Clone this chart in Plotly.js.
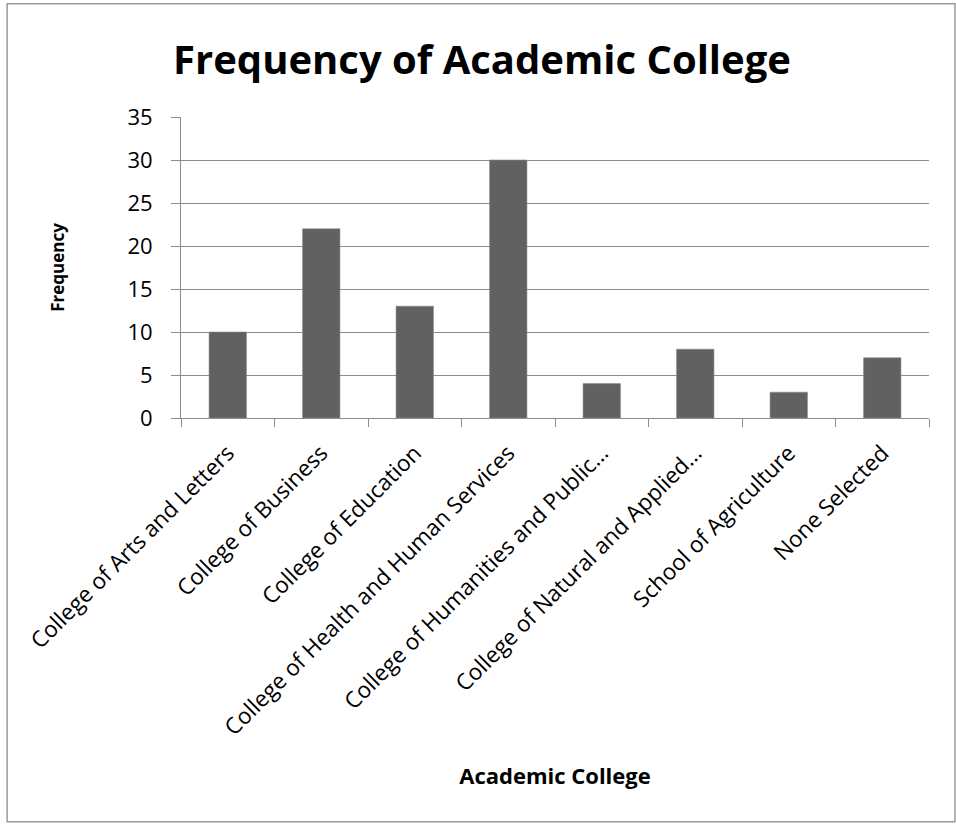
<!DOCTYPE html>
<html>
<head>
<meta charset="utf-8">
<script src="https://cdn.plot.ly/plotly-3.0.1.min.js"></script>
<style>
  html, body { margin: 0; padding: 0; background: #ffffff; }
  #chart { width: 956px; height: 825px; }
</style>
</head>
<body>
<div id="chart"></div>
<script>
// Academic college counts
const colleges = [
  "College of Arts and Letters",
  "College of Business",
  "College of Education",
  "College of Health and Human Services",
  "College of Humanities and Public…",
  "College of Natural and Applied…",
  "School of Agriculture",
  "None Selected"
];
const frequency = [10, 22, 13, 30, 4, 8, 3, 7];
const yTicks = [0, 5, 10, 15, 20, 25, 30, 35];

const FONT = "'Open Sans', 'Noto Sans', sans-serif";
const W = 956, H = 825;
const M = { l: 181, r: 26.5, t: 117.3, b: 406.7 };
const pw = W - M.l - M.r, ph = H - M.t - M.b;
// outer frame in pixel space converted to paper units
const px = v => (v - M.l) / pw;
const py = v => (H - M.b - v) / ph;

const trace = {
  type: "bar",
  x: colleges,
  y: frequency,
  marker: { color: "#616161", line: { color: "#8a8a8a", width: 0.6 } },
  hoverinfo: "x+y"
};

const layout = {
  width: W,
  height: H,
  margin: M,
  paper_bgcolor: "#ffffff",
  plot_bgcolor: "#ffffff",
  showlegend: false,
  bargap: 0.6,
  font: { family: FONT, color: "#000000", size: 22 },
  title: {
    text: "<b>Frequency of Academic College</b>",
    font: { family: FONT, size: 40, color: "#000000" },
    xref: "container", x: 482 / W, xanchor: "center",
    yref: "container", y: 1 - 60 / H, yanchor: "middle"
  },
  xaxis: {
    type: "category",
    tickson: "boundaries",
    ticks: "outside",
    ticklen: 8,
    tickcolor: "#8c8c8c",
    tickwidth: 1,
    showline: true,
    linecolor: "#8c8c8c",
    linewidth: 1,
    showgrid: false,
    tickangle: -45,
    tickfont: { family: FONT, size: 22.5, color: "#000000" },
    ticklabelstandoff: 12,
    automargin: false,
    title: {
      text: "<b>Academic College</b>",
      font: { family: FONT, size: 22, color: "#000000" },
      standoff: 27
    }
  },
  yaxis: {
    range: [0, 35],
    tickvals: yTicks,
    ticktext: yTicks.map(String),
    ticks: "outside",
    ticklen: 9,
    tickcolor: "#8c8c8c",
    tickwidth: 1,
    showline: true,
    linecolor: "#8c8c8c",
    linewidth: 1,
    showgrid: true,
    gridcolor: "#8c8c8c",
    gridwidth: 1,
    zeroline: false,
    tickfont: { family: FONT, size: 22, color: "#000000" },
    ticklabelstandoff: 14,
    automargin: false,
    title: {
      text: "<b>Frequency</b>",
      font: { family: FONT, size: 17, color: "#000000" },
      standoff: 58
    }
  },
  shapes: [{
    type: "rect",
    xref: "paper", yref: "paper",
    x0: px(7), x1: px(955.5),
    y0: py(822), y1: py(4),
    line: { color: "#9a9a9a", width: 1.5 },
    fillcolor: "rgba(0,0,0,0)",
    layer: "below"
  }]
};

Plotly.newPlot("chart", [trace], layout, { displayModeBar: false, staticPlot: true });
</script>
</body>
</html>
